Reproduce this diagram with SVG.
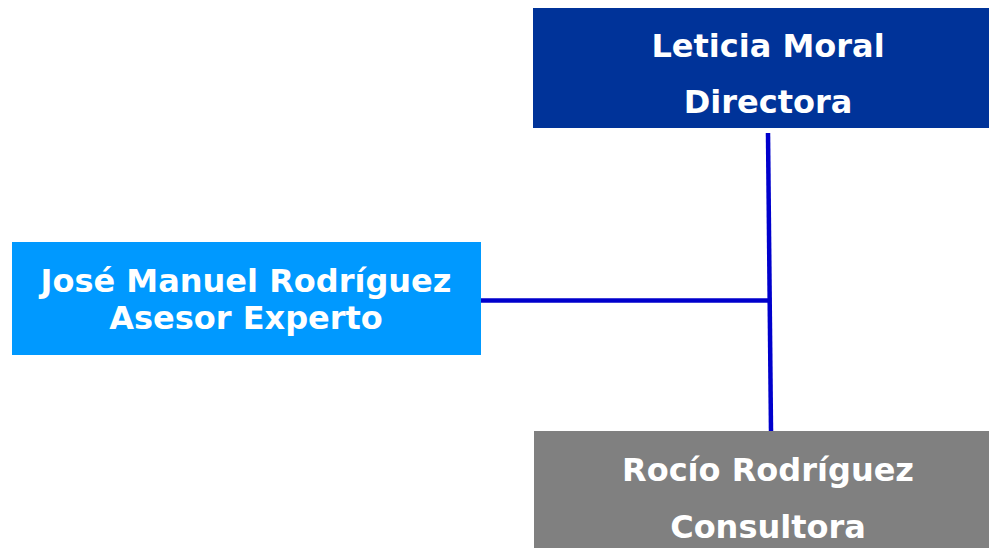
<svg xmlns="http://www.w3.org/2000/svg" width="989" height="548" viewBox="0 0 989 548">
<style>
.t{font-family:"DejaVu Sans","Verdana",sans-serif;font-weight:bold;font-size:32px;fill:#ffffff;text-anchor:middle}
.c{stroke:#0000CC;stroke-width:4.5;fill:none}
</style>
<rect width="989" height="548" fill="#ffffff"/>
<g id="connectors">
<line class="c" x1="768" y1="133" x2="771" y2="431"/>
<line class="c" x1="481" y1="300.5" x2="769.5" y2="300.5"/>
</g>
<g id="node-leticia">
<rect x="533" y="8" width="456" height="120" fill="#003399"/>
<text class="t" x="768" y="57">Leticia Moral</text>
<text class="t" x="768" y="113">Directora</text>
</g>
<g id="node-jose">
<rect x="12" y="242" width="469" height="113" fill="#0099FF"/>
<text class="t" x="246" y="292">José Manuel Rodríguez</text>
<text class="t" x="246" y="329">Asesor Experto</text>
</g>
<g id="node-rocio">
<rect x="534" y="431" width="455" height="117" fill="#808080"/>
<text class="t" x="768" y="481">Rocío Rodríguez</text>
<text class="t" x="768" y="538">Consultora</text>
</g>
</svg>
